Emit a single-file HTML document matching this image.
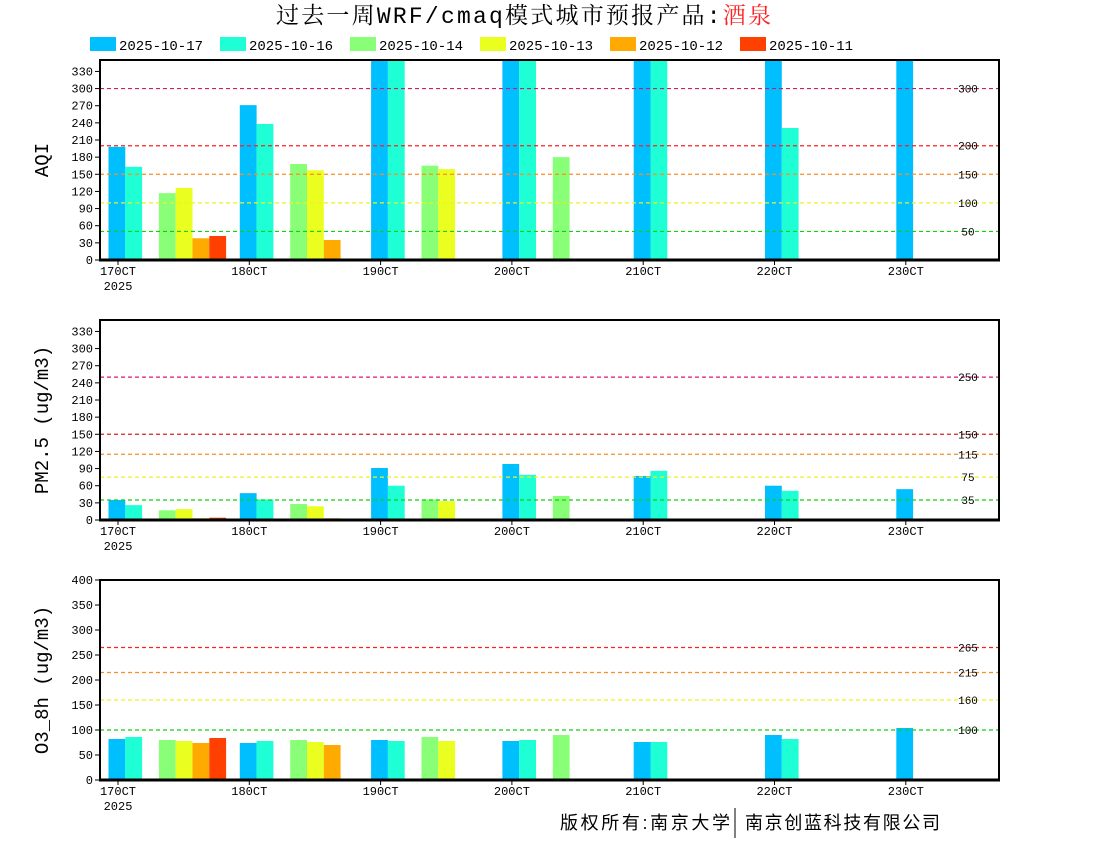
<!DOCTYPE html>
<html><head><meta charset="utf-8"><style>
html,body{margin:0;padding:0;background:#fff;width:1100px;height:850px;overflow:hidden}
svg text{font-family:"Liberation Mono","DejaVu Sans Mono",monospace}
</style></head><body>
<svg id="s" width="1100" height="850" xmlns="http://www.w3.org/2000/svg">
<text x="276" y="23" font-size="23" textLength="495" lengthAdjust="spacing" style="font-family:'Liberation Mono','Noto Serif CJK SC',serif">过去一周WRF/cmaq模式城市预报产品:<tspan fill="#ff2020">酒泉</tspan></text>
<text x="560" y="829" font-size="18" textLength="170" lengthAdjust="spacing" style="font-family:'Liberation Sans','Noto Sans CJK SC',sans-serif">版权所有:南京大学</text>
<line x1="735" y1="808" x2="735" y2="838" stroke="#000" stroke-width="1"/>
<text x="745" y="829" font-size="18" textLength="195" lengthAdjust="spacing" style="font-family:'Liberation Sans','Noto Sans CJK SC',sans-serif">南京创蓝科技有限公司</text>
</svg>
<script>
var s=document.getElementById('s'),NS='http://www.w3.org/2000/svg';
function el(t,a,txt){var e=document.createElementNS(NS,t);for(var k in a)e.setAttribute(k,a[k]);if(txt!==undefined)e.textContent=txt;s.appendChild(e);return e;}
var C=['#00bfff','#1effd5','#88ff77','#eaff20','#ffaa00','#ff4000'];
var L=['2025-10-17','2025-10-16','2025-10-14','2025-10-13','2025-10-12','2025-10-11'];
for(var i=0;i<6;i++){el('rect',{x:90+130*i,y:37,width:26,height:14,fill:C[i]});el('text',{x:119+130*i,y:50,'font-size':14},L[i]);}
var off=[-9.5,7.3,40.9,57.7,74.5,91.3],W=16.8;
function panel(top,max,step,last,ylab,lines,data){
 var bot=top+200,sc=200/max;
 data.forEach(function(d,k){var t=118+131.3*k;d.forEach(function(v,j){if(v==null)return;var h=Math.min(v*sc,200);el('rect',{x:t+off[j],y:bot-h,width:W,height:h,fill:C[j]});});});
 lines.forEach(function(l){var y=bot-l[0]*sc;el('line',{x1:100,x2:999,y1:y,y2:y,stroke:l[1],'stroke-width':1.2,'stroke-dasharray':'4,3'});el('text',{x:968,y:y+4,'font-size':11,'text-anchor':'middle'},l[2]);});
 el('rect',{x:100,y:top,width:899,height:200,fill:'none',stroke:'#000','stroke-width':2});
 el('line',{x1:99,x2:1000,y1:bot,y2:bot,stroke:'#000','stroke-width':3});
 for(var v=0;v<=last;v+=step){var y=bot-v*sc;el('line',{x1:95,x2:100,y1:y,y2:y,stroke:'#000'});el('text',{x:93,y:y+4,'font-size':12,'text-anchor':'end'},v);}
 var lab=['170CT','180CT','190CT','200CT','210CT','220CT','230CT'];
 for(var k=0;k<7;k++){var t=118+131.3*k;el('line',{x1:t,x2:t,y1:bot,y2:bot+5,stroke:'#000'});el('text',{x:t,y:bot+15,'font-size':12,'text-anchor':'middle'},lab[k]);}
 el('text',{x:118,y:bot+30,'font-size':12,'text-anchor':'middle'},'2025');
 var cy=top+100;el('text',{x:48,y:cy,'font-size':19,'text-anchor':'middle',transform:'rotate(-90 48 '+cy+')'},ylab);
}
panel(60,350,30,330,'AQI',[[300,'#c8206a','300'],[200,'#ff2020','200'],[150,'#ff8c20','150'],[100,'#f0f020','100'],[50,'#10d010','50']],
[[198,163,117,126,38,42],[271,238,168,157,35],[999,999,165,159],[999,999,180],[999,999],[999,231],[999]]);
panel(320,350,30,330,'PM2.5 (ug/m3)',[[250,'#e0107f','250'],[150,'#d82020','150'],[115,'#ff8c20','115'],[75,'#f0f020','75'],[35,'#10d010','35']],
[[35,26,17,19,3,4],[47,36,28,24,3],[91,60,36,33],[98,79,42],[77,86],[60,51],[54]]);
panel(580,400,50,400,'O3_8h (ug/m3)',[[265,'#ff2020','265'],[215,'#ff8c20','215'],[160,'#f0f020','160'],[100,'#10d010','100']],
[[82,86,80,78,74,84],[74,78,80,76,70],[80,78,86,78],[78,80,90],[76,76],[90,82],[104]]);
</script>
</body></html>
